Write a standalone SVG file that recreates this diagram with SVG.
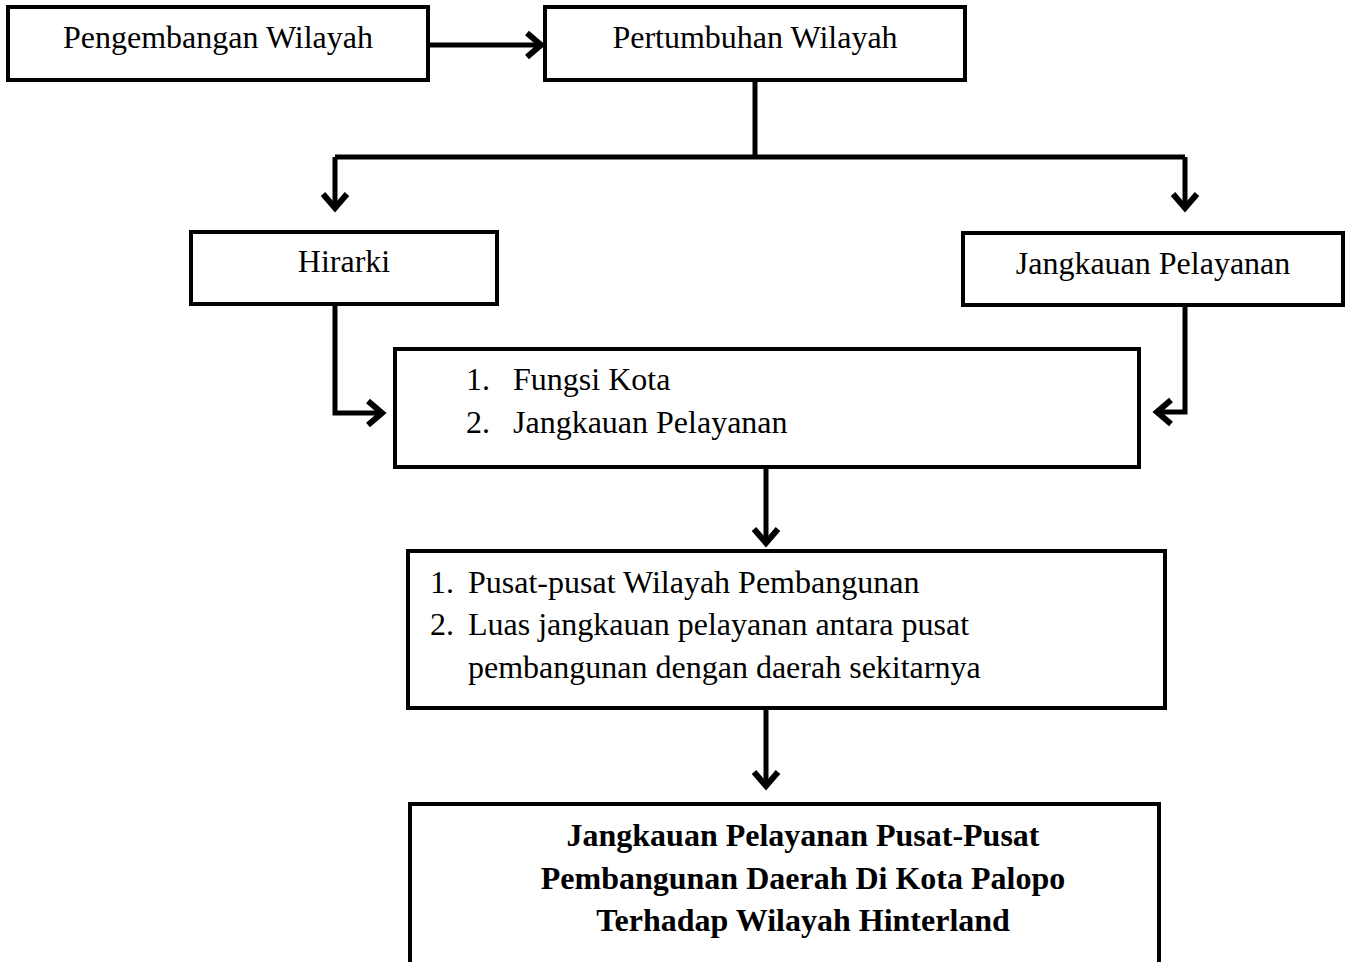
<svg xmlns="http://www.w3.org/2000/svg" width="1352" height="962" viewBox="0 0 1352 962">
<style>
.box{fill:#fff;stroke:#000;stroke-width:4}
.t{font-family:"Liberation Serif","Times New Roman",serif;font-size:32px;fill:#000}
.b{font-weight:bold;text-anchor:middle}
.c{text-anchor:middle}
.ln{fill:none;stroke:#000;stroke-width:5;stroke-linejoin:miter}
</style>
<defs>
<marker id="ah" markerUnits="userSpaceOnUse" markerWidth="32" markerHeight="32" viewBox="-20 -16 24 32" refX="0" refY="0" orient="auto">
<path d="M -14 -12 L 0 0 L -14 12" fill="none" stroke="#000" stroke-width="6"/>
</marker>
</defs>
<rect width="1352" height="962" fill="#fff"/>
<g id="connectors">
<path class="ln" d="M428 45 H541" marker-end="url(#ah)"/>
<path class="ln" d="M755 80 V157 M335 157 H1185"/>
<path class="ln" d="M335 157 V208" marker-end="url(#ah)"/>
<path class="ln" d="M1185 157 V208" marker-end="url(#ah)"/>
<path class="ln" d="M335 304 V413 H382" marker-end="url(#ah)"/>
<path class="ln" d="M1185 305 V412 H1157" marker-end="url(#ah)"/>
<path class="ln" d="M766 467 V543" marker-end="url(#ah)"/>
<path class="ln" d="M766 708 V786" marker-end="url(#ah)"/>
</g>
<g id="n1"><rect class="box" x="8" y="7" width="420" height="73"/><text class="t c" x="218" y="48">Pengembangan Wilayah</text></g>
<g id="n2"><rect class="box" x="545" y="7" width="420" height="73"/><text class="t c" x="755" y="48">Pertumbuhan Wilayah</text></g>
<g id="n3"><rect class="box" x="191" y="232" width="306" height="72"/><text class="t c" x="344" y="272">Hirarki</text></g>
<g id="n4"><rect class="box" x="963" y="233" width="380" height="72"/><text class="t c" x="1153" y="274">Jangkauan Pelayanan</text></g>
<g id="n5"><rect class="box" x="395" y="349" width="744" height="118"/>
<text class="t" x="466" y="390">1.</text><text class="t" x="513" y="390">Fungsi Kota</text>
<text class="t" x="466" y="433">2.</text><text class="t" x="513" y="433">Jangkauan Pelayanan</text></g>
<g id="n6"><rect class="box" x="408" y="551" width="757" height="157"/>
<text class="t" x="430" y="593">1.</text><text class="t" x="468" y="593">Pusat-pusat Wilayah Pembangunan</text>
<text class="t" x="430" y="635">2.</text><text class="t" x="468" y="635">Luas jangkauan pelayanan antara pusat</text>
<text class="t" x="468" y="678">pembangunan dengan daerah sekitarnya</text></g>
<g id="n7"><rect class="box" x="410" y="804" width="749" height="170"/>
<text class="t b" x="803" y="846">Jangkauan Pelayanan Pusat-Pusat</text>
<text class="t b" x="803" y="889">Pembangunan Daerah Di Kota Palopo</text>
<text class="t b" x="803" y="931">Terhadap Wilayah Hinterland</text></g>
</svg>
